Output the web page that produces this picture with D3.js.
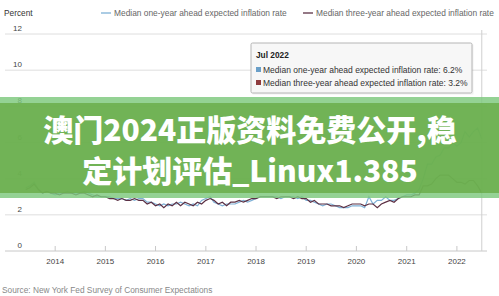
<!DOCTYPE html>
<html>
<head>
<meta charset="utf-8">
<script src="https://cdn.jsdelivr.net/npm/d3@7"></script>
<style>
  html, body { margin: 0; padding: 0; background: #fff; }
  svg { display: block; font-family: "Liberation Sans", Arial, sans-serif; }
</style>
</head>
<body>
<div id="chart"></div>
<script>
// monthly series, June 2013 .. July 2022
const startMonth = new Date(2013, 5, 1);
const oneYear = [
  3.5, 3.6, 3.8, 3.4, 3.2, 3.3, 3.2,
  3.1, 3.2, 3.2, 3.3, 3.2, 3.2, 3.2, 3.3, 3.2, 3.1, 3.0, 3.0,
  3.0, 3.0, 2.9, 2.9, 2.9, 2.8, 2.9, 2.8, 2.9, 2.9, 2.7, 2.7,
  2.6, 2.5, 2.6, 2.5, 2.6, 2.6, 2.7, 2.6, 2.5, 2.6, 2.5, 2.8,
  2.9, 3.0, 2.7, 2.6, 2.5, 2.6, 2.6, 2.6, 2.7, 2.8, 2.7, 2.8,
  2.9, 3.0, 3.0, 3.0, 3.0, 3.0, 2.9, 3.0, 3.0, 3.0, 2.9, 3.0,
  2.8, 2.8, 2.7, 2.6, 2.5, 2.6, 2.6, 2.5, 2.4, 2.4, 2.4, 2.5,
  2.5, 2.5, 2.4, 3.0, 2.6, 2.8, 2.8, 3.0, 2.8, 2.8, 2.9, 3.0,
  3.1, 3.1, 3.2, 3.4, 4.0, 4.8, 4.8, 5.2, 5.3, 5.7, 5.7, 6.0,
  5.8, 6.0, 6.6, 6.3, 6.6, 6.8, 6.2
];
const threeYear = [
  3.4, 3.5, 3.7, 3.4, 3.2, 3.3, 3.2,
  3.2, 3.1, 3.2, 3.2, 3.2, 3.1, 3.2, 3.2, 3.1, 3.0, 3.1, 3.0,
  3.0, 2.9, 2.9, 2.8, 2.9, 2.8, 2.8, 2.9, 2.8, 2.8, 2.6, 2.7,
  2.5, 2.6, 2.4, 2.6, 2.5, 2.7, 2.5, 2.7, 2.6, 2.5, 2.7, 2.6,
  2.8, 2.9, 2.8, 2.6, 2.7, 2.5, 2.7, 2.7, 2.8, 2.7, 2.8, 2.9,
  2.9, 3.0, 3.0, 3.0, 3.0, 2.9, 3.0, 3.0, 3.0, 2.9, 3.0, 2.9,
  2.9, 2.7, 2.8, 2.6, 2.6, 2.6, 2.5, 2.5, 2.5, 2.4, 2.5, 2.6,
  2.6, 2.6, 2.5, 2.6, 2.6, 2.4, 2.6, 2.7, 2.8, 2.7, 2.9, 3.0,
  3.0, 3.0, 3.1, 3.1, 3.6, 3.6, 3.7, 4.0, 4.2, 4.2, 4.2, 4.0,
  3.8, 3.8, 3.7, 3.9, 3.9, 3.6, 3.2
];
const seriesNames = ['Median one-year ahead expected inflation rate', 'Median three-year ahead expected inflation rate'];
const seriesColors = ['#7eb0d6', '#5c3044'];
const yTicks = [0, 2, 4, 6, 8, 10, 12];
const xTickYears = [2014, 2015, 2016, 2017, 2018, 2019, 2020, 2021, 2022];
const tooltipTitle = 'Jul 2022';
const bannerLines = ['澳门2024正版资料免费公开,稳', '定计划评估_Linux1.385'];

const width = 499, height = 296;
const plotLeft = 5, plotRight = 487, plotTop = 34, plotBottom = 251;

const svg = d3.select('#chart').append('svg')
  .attr('width', width)
  .attr('height', height);

const x = d3.scaleTime()
  .domain([new Date(2013, 0, 1), new Date(2022, 7, 8)])
  .range([plotLeft, plotRight]);
const y = d3.scaleLinear()
  .domain([0, 12])
  .range([plotBottom, plotTop]);

const dates = oneYear.map((_, i) => d3.timeMonth.offset(startMonth, i));

// gridlines + labels
const grid = svg.append('g');
grid.selectAll('line')
  .data(yTicks)
  .join('line')
  .attr('x1', plotLeft).attr('x2', plotRight)
  .attr('y1', d => y(d)).attr('y2', d => y(d))
  .attr('stroke', d => d === 0 ? '#c8c8c8' : '#dedede')
  .attr('stroke-width', 1);
grid.selectAll('text')
  .data(yTicks)
  .join('text')
  .attr('x', 22)
  .attr('y', d => y(d) - 3)
  .attr('text-anchor', 'end')
  .attr('font-size', 8)
  .attr('fill', '#444')
  .text(d => d);

// x axis ticks (pointing up)
const xAxis = svg.append('g');
xAxis.selectAll('line')
  .data(xTickYears)
  .join('line')
  .attr('x1', d => x(new Date(d, 0, 1))).attr('x2', d => x(new Date(d, 0, 1)))
  .attr('y1', plotBottom - 5).attr('y2', plotBottom)
  .attr('stroke', '#c8c8c8');
xAxis.selectAll('text')
  .data(xTickYears)
  .join('text')
  .attr('x', d => x(new Date(d, 0, 1)))
  .attr('y', 264)
  .attr('text-anchor', 'middle')
  .attr('font-size', 8)
  .attr('fill', '#444')
  .text(d => d);

// lines
const line = d3.line()
  .x((d, i) => x(dates[i]))
  .y(d => y(d));
svg.selectAll('path.series')
  .data([oneYear, threeYear])
  .join('path')
  .attr('class', 'series')
  .attr('fill', 'none')
  .attr('stroke', (_, i) => seriesColors[i])
  .attr('stroke-width', 1.2)
  .attr('d', line);

// crosshair at last point
const lastDate = dates[dates.length - 1];
svg.append('line')
  .attr('x1', x(lastDate)).attr('x2', x(lastDate))
  .attr('y1', plotTop - 4).attr('y2', plotBottom)
  .attr('stroke', '#cfcfcf');

// tooltip
const tip = svg.append('g').attr('transform', 'translate(251,43)');
tip.append('rect')
  .attr('x', 1.5).attr('y', 1.5)
  .attr('width', 221).attr('height', 50)
  .attr('fill', '#000').attr('opacity', 0.06);
tip.append('rect')
  .attr('width', 221).attr('height', 50)
  .attr('rx', 1.5)
  .attr('fill', '#f7f7f7')
  .attr('stroke', '#b5b5b5');
tip.append('text')
  .attr('x', 5).attr('y', 15)
  .attr('font-size', 8.3).attr('font-weight', 'bold')
  .attr('fill', '#222')
  .text(tooltipTitle);
const lastVals = [oneYear[oneYear.length - 1], threeYear[threeYear.length - 1]];
const tipColors = ['#6a9fc8', '#8e3b3e'];
const rows = tip.selectAll('g.row')
  .data(seriesNames)
  .join('g')
  .attr('class', 'row')
  .attr('transform', (_, i) => `translate(5,${30 + i * 13})`);
rows.append('rect')
  .attr('x', 0).attr('y', -6)
  .attr('width', 5).attr('height', 5)
  .attr('fill', (_, i) => tipColors[i]);
rows.append('text')
  .attr('x', 7).attr('y', 0)
  .attr('font-size', 8.5)
  .attr('fill', '#333')
  .text((d, i) => `${d}: ${lastVals[i].toFixed(1)}%`);

// header: unit + legend
svg.append('text')
  .attr('x', 4).attr('y', 16)
  .attr('font-size', 8.3)
  .attr('fill', '#333')
  .text('Percent');
const legendX = [101, 303];
const leg = svg.selectAll('g.legend')
  .data(seriesNames)
  .join('g')
  .attr('class', 'legend')
  .attr('transform', (_, i) => `translate(${legendX[i]},13)`);
leg.append('line')
  .attr('x1', 0).attr('x2', 10)
  .attr('stroke', (_, i) => seriesColors[i])
  .attr('stroke-width', 1.3);
leg.append('text')
  .attr('x', 13).attr('y', 3)
  .attr('font-size', 8.4)
  .attr('fill', '#666')
  .text(d => d);

// source
svg.append('text')
  .attr('x', 2).attr('y', 293)
  .attr('font-size', 8.3)
  .attr('fill', '#888')
  .text('Source: New York Fed Survey of Consumer Expectations');

// green banner overlay
const banner = svg.append('g');
banner.append('rect')
  .attr('x', 0).attr('y', 97)
  .attr('width', width).attr('height', 101)
  .attr('fill', 'rgb(125,200,125)').attr('opacity', 0.82);
banner.append('rect')
  .attr('x', 0).attr('y', 103)
  .attr('width', width).attr('height', 90)
  .attr('fill', 'rgb(105,172,72)').attr('opacity', 0.82);
banner.selectAll('text')
  .data(bannerLines)
  .join('text')
  .attr('x', 250)
  .attr('y', (_, i) => 141 + i * 41)
  .attr('text-anchor', 'middle')
  .attr('font-family', '"Noto Sans CJK SC", sans-serif')
  .attr('font-weight', 900)
  .attr('font-size', 30)
  .attr('fill', '#fff')
  .text(d => d);
</script>
</body>
</html>
